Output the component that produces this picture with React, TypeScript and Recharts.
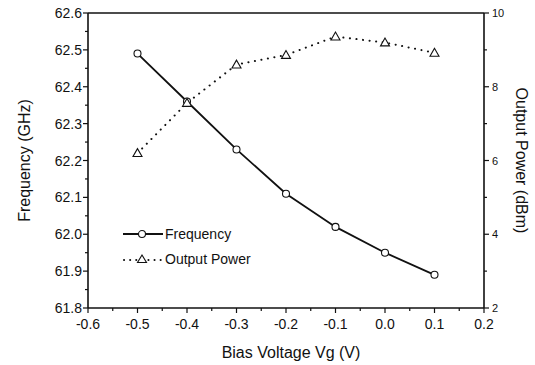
import React from 'react'
import {
  ComposedChart, Line, XAxis, YAxis, ReferenceLine, Legend
} from 'recharts'

const voltage = [-0.5, -0.4, -0.3, -0.2, -0.1, 0.0, 0.1]
const frequency = [62.49, 62.36, 62.23, 62.11, 62.02, 61.95, 61.89]
const outputPower = [6.2, 7.56, 8.6, 8.86, 9.36, 9.2, 8.92]

const xTicks = [-0.6, -0.55, -0.5, -0.45, -0.4, -0.35, -0.3, -0.25, -0.2, -0.15, -0.1, -0.05, 0.0, 0.05, 0.1, 0.15, 0.2]
const freqTicks = [61.8, 61.85, 61.9, 61.95, 62.0, 62.05, 62.1, 62.15, 62.2, 62.25, 62.3, 62.35, 62.4, 62.45, 62.5, 62.55, 62.6]
const powerTicks = [2, 3, 4, 5, 6, 7, 8, 9, 10]

const data = voltage.map((v, i) => ({ v, freq: frequency[i], power: outputPower[i] }))

const FONT = '"Liberation Sans", Arial, sans-serif'
const INK = '#111'

const isMajor = (v: number, step: number) => Math.abs(v / step - Math.round(v / step)) < 1e-6

function XTick({ x, y, payload }: any) {
  const major = isMajor(payload.value, 0.1)
  return (
    <g>
      <line x1={x} x2={x} y1={y} y2={y + (major ? 5 : 3)} stroke={INK} strokeWidth={1.2} />
      {major && (
        <text x={x} y={y + 21} textAnchor="middle" fontSize={14} fill={INK} fontFamily={FONT}>
          {payload.value.toFixed(1)}
        </text>
      )}
    </g>
  )
}

function LeftTick({ x, y, payload }: any) {
  const major = isMajor(payload.value, 0.1)
  return (
    <g>
      <line x1={x} x2={x - (major ? 5 : 3)} y1={y} y2={y} stroke={INK} strokeWidth={1.2} />
      {major && (
        <text x={x - 6} y={y + 5} textAnchor="end" fontSize={14} fill={INK} fontFamily={FONT}>
          {payload.value.toFixed(1)}
        </text>
      )}
    </g>
  )
}

function RightTick({ x, y, payload }: any) {
  const major = isMajor(payload.value, 2)
  return (
    <g>
      <line x1={x} x2={x + (major ? 5 : 3)} y1={y} y2={y} stroke={INK} strokeWidth={1.2} />
      {major && (
        <text x={x + 8} y={y + 4} textAnchor="start" fontSize={11} fill={INK} fontFamily={FONT}>
          {payload.value}
        </text>
      )}
    </g>
  )
}

function Triangle({ cx, cy }: any) {
  if (cx == null || cy == null) return null
  const s = 4.5
  return (
    <polygon
      points={`${cx},${cy - s} ${cx - s},${cy + s * 0.75} ${cx + s},${cy + s * 0.75}`}
      fill="#fff"
      stroke={INK}
      strokeWidth={1.1}
    />
  )
}

function LegendBox() {
  const row = { display: 'flex', alignItems: 'center', height: 25 }
  return (
    <div style={{ fontFamily: FONT, fontSize: 14, color: INK }}>
      <div style={row}>
        <svg width={44} height={12}>
          <line x1={2} x2={42} y1={6} y2={6} stroke={INK} strokeWidth={1.8} />
          <circle cx={21} cy={6} r={3.5} fill="#fff" stroke={INK} strokeWidth={1.1} />
        </svg>
        <span>Frequency</span>
      </div>
      <div style={row}>
        <svg width={44} height={12}>
          <line x1={3} x2={42} y1={7} y2={7} stroke={INK} strokeWidth={2} strokeDasharray="0.1 6" strokeLinecap="round" />
          <polygon points="21,2 16.5,9.5 25.5,9.5" fill="#fff" stroke={INK} strokeWidth={1.1} />
        </svg>
        <span>Output Power</span>
      </div>
    </div>
  )
}

export default function App() {
  return (
    <div style={{ position: 'absolute', left: 0, top: 0, width: 535, height: 365, background: '#fff' }}>
      <ComposedChart
        width={535}
        height={365}
        data={data}
        margin={{ top: 13, right: 0, bottom: 0, left: 0 }}
      >
        <XAxis
          dataKey="v"
          type="number"
          domain={[-0.6, 0.2]}
          ticks={xTicks}
          interval={0}
          height={57}
          tickSize={0}
          tickMargin={0}
          tickLine={false}
          tick={<XTick />}
          axisLine={{ stroke: INK, strokeWidth: 1.6 }}
          label={{ value: 'Bias Voltage Vg (V)', position: 'insideBottom', offset: 7, fontSize: 16, fill: INK, fontFamily: FONT, dx: 5 }}
        />
        <YAxis
          yAxisId="left"
          domain={[61.8, 62.6]}
          ticks={freqTicks}
          interval={0}
          width={88}
          tickSize={0}
          tickMargin={0}
          tickLine={false}
          tick={<LeftTick />}
          axisLine={{ stroke: INK, strokeWidth: 1.6 }}
          label={{ value: 'Frequency (GHz)', angle: -90, position: 'insideLeft', offset: 0, dx: 24, fontSize: 16, fill: INK, fontFamily: FONT, style: { textAnchor: 'middle' } }}
        />
        <YAxis
          yAxisId="right"
          orientation="right"
          domain={[2, 10]}
          ticks={powerTicks}
          interval={0}
          width={51}
          tickSize={0}
          tickMargin={0}
          tickLine={false}
          tick={<RightTick />}
          axisLine={{ stroke: INK, strokeWidth: 1.6 }}
          label={{ value: 'Output Power (dBm)', angle: 90, position: 'insideRight', offset: 0, dx: -13, fontSize: 16, fill: INK, fontFamily: FONT, style: { textAnchor: 'middle' } }}
        />
        <ReferenceLine yAxisId="left" y={62.6} stroke={INK} strokeWidth={1.6} />
        <Legend
          layout="vertical"
          verticalAlign="middle"
          align="center"
          content={<LegendBox />}
          wrapperStyle={{ left: 121, top: 221, width: 160 }}
        />
        <Line
          yAxisId="left"
          dataKey="freq"
          name="Frequency"
          stroke={INK}
          strokeWidth={1.8}
          dot={{ r: 3.5, fill: '#fff', stroke: INK, strokeWidth: 1.1 }}
          isAnimationActive={false}
        />
        <Line
          yAxisId="right"
          dataKey="power"
          name="Output Power"
          stroke={INK}
          strokeWidth={2}
          strokeDasharray="0.1 6.5"
          strokeLinecap="round"
          dot={<Triangle />}
          isAnimationActive={false}
        />
      </ComposedChart>
    </div>
  )
}
